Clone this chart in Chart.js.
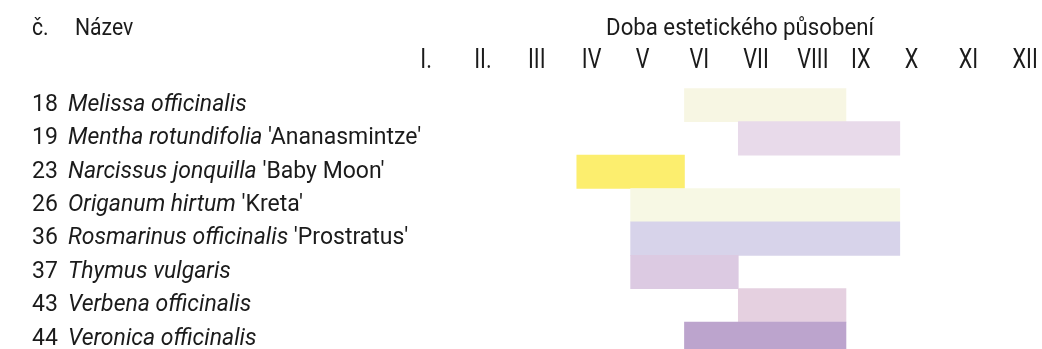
<!DOCTYPE html>
<html>
<head>
<meta charset="utf-8">
<script src="https://cdn.jsdelivr.net/npm/chart.js@4"></script>
<style>
  html, body { margin: 0; padding: 0; background: #fff; overflow: hidden; }
  #wrap { width: 1070px; height: 360px; }
</style>
</head>
<body>
<div id="wrap"><canvas id="bloomChart" width="1070" height="360"></canvas></div>
<script>
// data
const months = ["I.", "II.", "III", "IV", "V", "VI", "VII", "VIII", "IX", "X", "XI", "XII"];
const plantNumbers = ["18", "19", "23", "26", "36", "37", "43", "44"];
const latinNames = ["Melissa officinalis", "Mentha rotundifolia", "Narcissus jonquilla", "Origanum hirtum",
  "Rosmarinus officinalis", "Thymus vulgaris", "Verbena officinalis", "Veronica officinalis"];
const cultivars = ["", "'Ananasmintze'", "'Baby Moon'", "'Kreta'", "'Prostratus'", "", "", ""];
const startMonth = [6, 7, 4, 5, 5, 5, 7, 6];   // first month of the period
const endMonth = [8, 9, 5, 9, 9, 6, 8, 8];     // last month of the period
const barColors = ["#f7f6e3", "#e8daea", "#fcee6e", "#f7f8e4", "#d7d3ea", "#dccae2", "#e5d0e0", "#bca4cd"];

const textColor = "#1b1b1b";
const font = "Roboto, 'Liberation Sans', sans-serif";

// no condensed face installed, so squeeze Roboto horizontally
function condensedText(ctx, text, x, y, sx) {
  ctx.save();
  ctx.translate(x, y);
  ctx.scale(sx, 1);
  ctx.fillText(text, 0, 0);
  ctx.restore();
}

// header, month names and the mixed italic row labels
const labelsPlugin = {
  id: "labels",
  afterDraw(chart) {
    const ctx = chart.ctx;
    const x = chart.scales.x, y = chart.scales.y;
    ctx.save();
    ctx.fillStyle = textColor;
    ctx.textBaseline = "middle";

    ctx.font = "23px " + font;
    ctx.textAlign = "left";
    condensedText(ctx, "č.", 32, 29, 0.92);
    condensedText(ctx, "Název", 75, 29, 0.92);

    ctx.font = "24px " + font;
    ctx.textAlign = "center";
    condensedText(ctx, "Doba estetického působení", 740, 29, 0.925);

    ctx.font = "27px " + font;
    ctx.textAlign = "left";
    months.forEach((m, i) => condensedText(ctx, m, x.getPixelForValue(i) + 5, 61, 0.8));

    latinNames.forEach((name, i) => {
      const py = y.getPixelForValue(i);
      ctx.font = "23px " + font;
      ctx.fillText(plantNumbers[i], 32, py);
      ctx.font = "italic 23px " + font;
      ctx.fillText(name, 68, py);
      const w = ctx.measureText(name + " ").width;
      ctx.font = "23px " + font;
      if (cultivars[i]) ctx.fillText(cultivars[i], 68 + w, py);
    });
    ctx.restore();
  }
};

new Chart(document.getElementById("bloomChart"), {
  type: "bar",
  data: {
    labels: latinNames,
    datasets: [{
      data: startMonth.map((s, i) => [s - 1, endMonth[i]]),
      backgroundColor: barColors,
      borderWidth: 0,
      barPercentage: 1,
      categoryPercentage: 1
    }]
  },
  options: {
    indexAxis: "y",
    responsive: false,
    animation: false,
    layout: { padding: { left: 415.3, right: 8.7, top: 88.3, bottom: 4.5 } },
    scales: {
      x: { type: "linear", min: 0, max: 12, display: false },
      y: { display: false }
    },
    plugins: {
      legend: { display: false },
      tooltip: { enabled: false }
    }
  },
  plugins: [labelsPlugin]
});
</script>
</body>
</html>
